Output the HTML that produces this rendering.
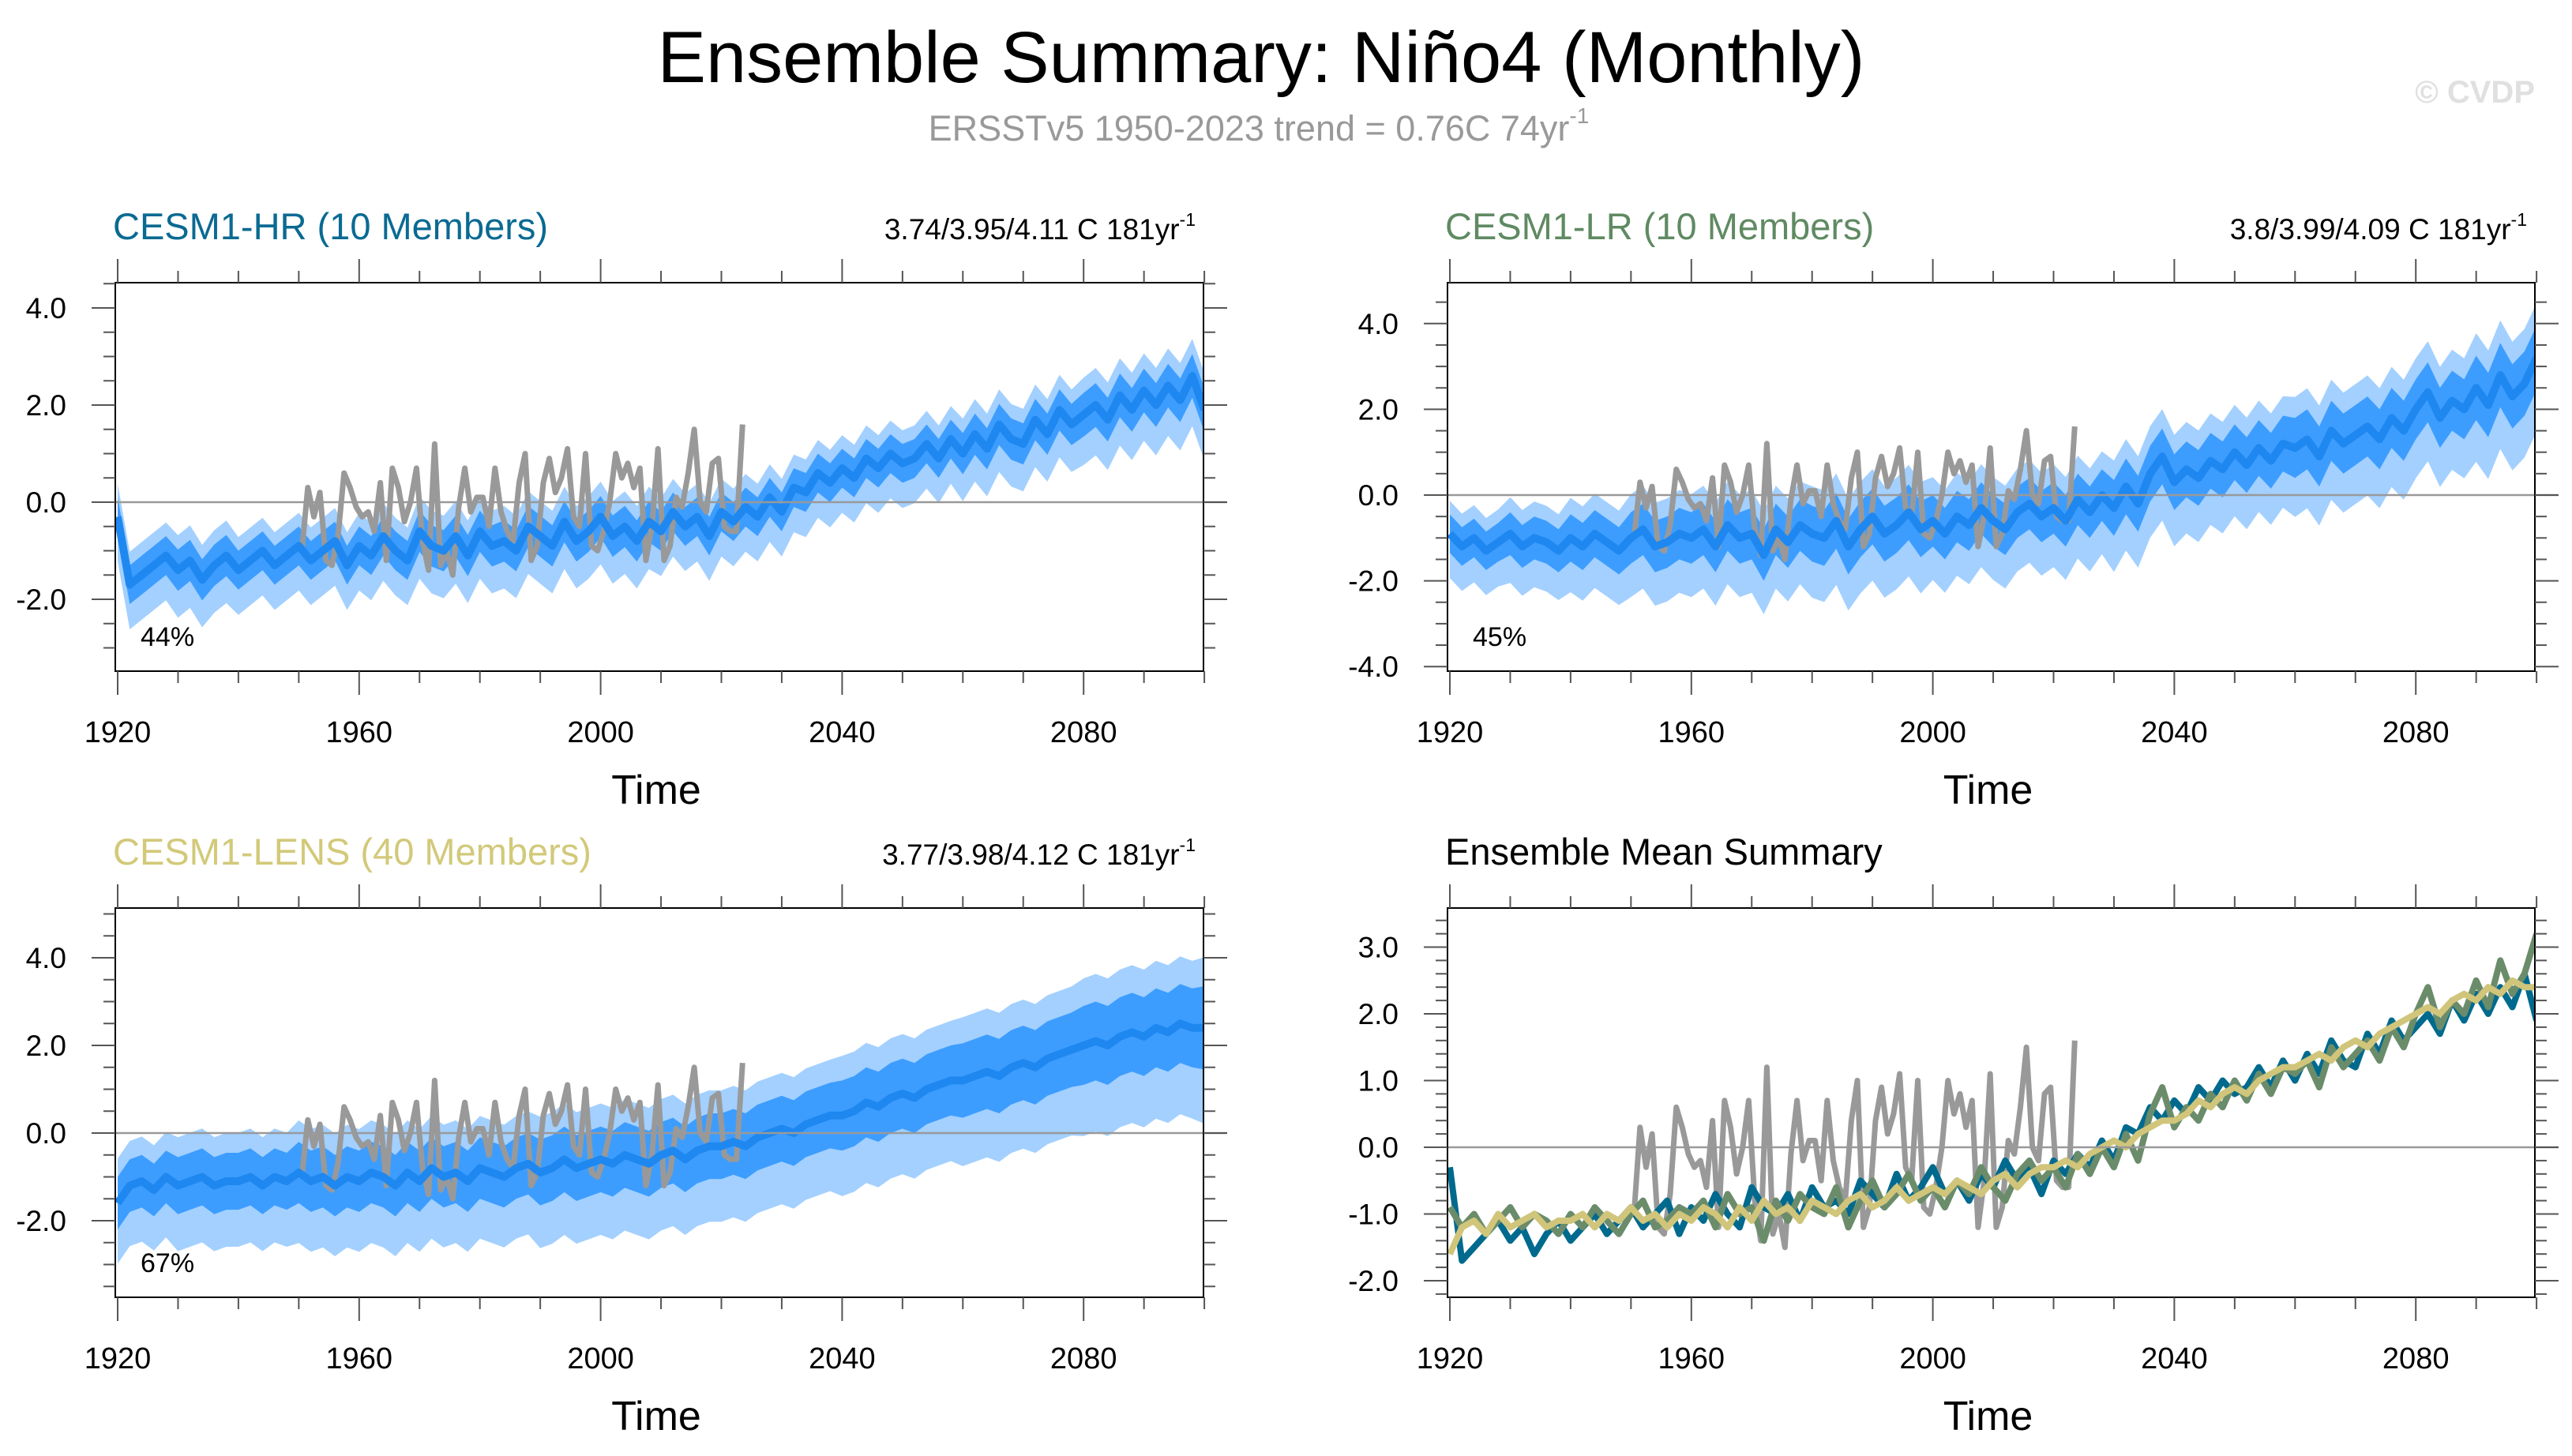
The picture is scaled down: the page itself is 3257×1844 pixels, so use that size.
<!DOCTYPE html>
<html><head><meta charset="utf-8"><title>Ensemble Summary: Niño4 (Monthly)</title>
<style>
html,body{margin:0;padding:0;background:#fff;}
svg{display:block;font-family:"Liberation Sans",sans-serif;}
</style></head>
<body>
<svg id="fig" width="3257" height="1844" viewBox="0 0 3257 1844" xmlns="http://www.w3.org/2000/svg">
<text x="1597" y="104" font-size="92" text-anchor="middle" fill="#000">Ensemble Summary: Niño4 (Monthly)</text>
<text x="1594" y="178" font-size="45" text-anchor="middle" fill="#999">ERSSTv5 1950-2023 trend = 0.76C 74yr<tspan font-size="28" dy="-22">-1</tspan></text>
<text x="3210" y="130" font-size="40" font-weight="bold" text-anchor="end" fill="#e0e0e0">© CVDP</text>
<g id="plots"></g>
</svg>
<script>
// ---- data (2-year steps 1920..2100) ----
const years = [];
for (let y = 1920; y <= 2100; y += 2) years.push(y);
const hrMean = [-0.3,-1.7,-1.5,-1.3,-1.1,-1.4,-1.2,-1.6,-1.3,-1.1,
-1.4,-1.2,-1.0,-1.3,-1.1,-0.9,-1.2,-1.0,-0.8,-1.3,
-0.9,-1.1,-0.7,-1.0,-1.2,-0.6,-0.9,-1.0,-0.7,-1.1,
-0.6,-0.9,-0.8,-1.0,-0.5,-0.7,-0.9,-0.4,-0.8,-0.6,
-0.3,-0.7,-0.5,-0.8,-0.4,-0.6,-0.2,-0.5,-0.3,-0.7,
-0.2,-0.4,-0.1,-0.3,0.1,-0.2,0.3,0.2,0.6,0.4,
0.7,0.5,0.9,0.7,1.0,0.8,0.9,1.2,0.9,1.3,
1.0,1.4,1.1,1.6,1.3,1.2,1.7,1.4,1.9,1.6,
1.8,2.0,1.7,2.2,1.9,2.3,2.0,2.4,2.1,2.6,1.9];
const lrMean = [-0.9,-1.2,-1.0,-1.3,-1.1,-0.9,-1.2,-1.0,-1.1,-1.3,
-1.0,-1.2,-0.9,-1.1,-1.3,-1.0,-0.8,-1.2,-1.1,-0.9,
-1.0,-0.8,-1.2,-0.7,-1.0,-0.9,-1.4,-0.8,-1.1,-0.7,
-0.9,-1.0,-0.6,-1.2,-0.8,-0.5,-0.9,-0.7,-0.4,-0.8,
-0.6,-0.9,-0.5,-0.7,-0.3,-0.6,-0.8,-0.4,-0.2,-0.5,
-0.3,-0.6,-0.1,-0.4,0.0,-0.3,0.2,-0.2,0.5,0.9,
0.3,0.6,0.4,0.8,0.6,1.0,0.7,1.1,0.8,1.2,
1.1,1.3,0.9,1.5,1.2,1.4,1.6,1.3,1.8,1.5,
2.0,2.4,1.8,2.2,2.0,2.5,2.1,2.8,2.3,2.6,3.2];
const lensMean = [-1.6,-1.2,-1.1,-1.3,-1.0,-1.2,-1.1,-1.0,-1.2,-1.1,
-1.1,-1.0,-1.2,-1.0,-1.1,-0.9,-1.1,-1.0,-1.2,-1.0,
-1.1,-0.9,-1.0,-1.2,-0.9,-1.1,-0.8,-1.0,-0.9,-1.1,
-0.8,-0.9,-1.0,-0.8,-0.7,-0.9,-0.8,-0.6,-0.8,-0.7,
-0.6,-0.7,-0.5,-0.6,-0.7,-0.5,-0.4,-0.6,-0.4,-0.3,
-0.3,-0.2,-0.3,-0.1,0.0,0.1,0.0,0.2,0.3,0.4,
0.4,0.5,0.7,0.6,0.8,0.9,0.8,1.0,1.1,1.2,
1.2,1.3,1.4,1.3,1.5,1.6,1.5,1.7,1.8,1.9,
2.0,2.1,2.0,2.2,2.3,2.2,2.4,2.3,2.5,2.4,2.4];
// ensemble half-range per decade (1920s..2100)
const hrSpread = [0.8,0.85,0.8,0.8,0.8,0.85,0.85,0.85,0.85,0.8,0.8,0.8,0.8,0.8,0.85,0.85,0.9,0.9,0.9];
const lrSpread = [0.9,1.0,1.1,1.2,1.2,1.2,1.3,1.3,1.2,1.2,1.2,1.3,1.3,1.3,1.4,1.4,1.4,1.5,1.5];
const lensSpread = [1.2,1.3,1.3,1.4,1.4,1.4,1.4,1.5,1.5,1.5,1.5,1.5,1.6,1.6,1.7,1.7,1.8,1.8,1.9];
// observations ERSSTv5, annual 1950..2023
const obsYears = [];
for (let y = 1950; y <= 2023; y++) obsYears.push(y);
const obs = [-1.0,0.3,-0.3,0.2,-1.2,-1.3,-0.7,0.6,0.3,-0.1,
-0.3,-0.2,-0.6,0.4,-1.2,0.7,0.3,-0.4,0.0,0.7,
-0.8,-1.4,1.2,-1.3,-1.0,-1.5,-0.1,0.7,-0.2,0.1,
0.1,-0.5,0.7,-0.2,-0.6,-0.8,0.4,1.0,-1.2,-0.9,
0.4,0.9,0.2,0.5,1.1,-0.3,-0.5,1.0,-0.9,-1.0,
-0.6,0.0,1.0,0.5,0.8,0.3,0.7,-1.2,-0.5,1.1,
-1.2,-0.9,0.1,-0.1,0.6,1.5,0.0,-0.2,0.8,0.9,
-0.5,-0.6,-0.6,1.6];
const xTickLabels = ["1920","1960","2000","2040","2080"];

const NS = "http://www.w3.org/2000/svg";
const root = document.getElementById("plots");
function mk(tag, attrs, parent) {
  const e = document.createElementNS(NS, tag);
  for (const k in attrs) e.setAttribute(k, attrs[k]);
  (parent || root).appendChild(e);
  return e;
}

function panel(cfg) {
  const g = mk("g", {});
  
  
  const X = yr => cfg.x1920 + (yr - 1920) * 7.645;
  const Y = v => cfg.zeroY - v * cfg.ppu;
  const L = cfg.left, R = cfg.right, T = cfg.top, B = cfg.bottom;
  const cid = "clip-" + cfg.name;
  const cp = mk("clipPath", {id: cid}, g);
  mk("rect", {x: L, y: T, width: R - L, height: B - T}, cp);
  const data = mk("g", {"clip-path": "url(#" + cid + ")"}, g);
  const zl = mk("line", {x1: L, x2: R + 30, y1: Y(0), y2: Y(0), stroke: "#999", "stroke-width": 2.5}, g);
  
  
  if (cfg.mean) {
    let up = "", lo = "", iup = "", ilo = "";
    years.forEach((yr, i) => {
      const s = cfg.spread[Math.min(cfg.spread.length - 1, Math.floor((yr - 1920) / 10))];
      up += (i ? "L" : "M") + X(yr).toFixed(1) + "," + Y(cfg.mean[i] + s * 0.85).toFixed(1);
      iup += (i ? "L" : "M") + X(yr).toFixed(1) + "," + Y(cfg.mean[i] + s * 0.5).toFixed(1);
    });
    for (let i = years.length - 1; i >= 0; i--) {
      const yr = years[i];
      const s = cfg.spread[Math.min(cfg.spread.length - 1, Math.floor((yr - 1920) / 10))];
      lo += "L" + X(yr).toFixed(1) + "," + Y(cfg.mean[i] - s * 1.15).toFixed(1);
      ilo += "L" + X(yr).toFixed(1) + "," + Y(cfg.mean[i] - s * 0.5).toFixed(1);
    }
    const ob = mk("path", {d: up + lo + "Z", fill: "#a3d0ff"}, data);
    
    
    const ib = mk("path", {d: iup + ilo + "Z", fill: "#3d9dff"}, data);
    
    
  }
  const od = obsYears.map((yr, i) => (i ? "L" : "M") + X(yr + 0.5).toFixed(1) + "," + Y(obs[i]).toFixed(1)).join("");
  const ol = mk("path", {d: od, fill: "none", stroke: "#999", "stroke-width": 7, "stroke-linejoin": "round"}, data);
  
  
  if (cfg.mean) {
    const md = years.map((yr, i) => (i ? "L" : "M") + X(yr).toFixed(1) + "," + Y(cfg.mean[i]).toFixed(1)).join("");
    const ml = mk("path", {d: md, fill: "none", stroke: "#1e88f0", "stroke-width": 10, "stroke-linejoin": "round"}, data);
    
    
  }
  if (cfg.multi) {
    cfg.multi.forEach(m => {
      const md = years.map((yr, i) => (i ? "L" : "M") + X(yr).toFixed(1) + "," + Y(m.vals[i]).toFixed(1)).join("");
      const ml = mk("path", {d: md, fill: "none", stroke: m.color, "stroke-width": 8, "stroke-linejoin": "round"}, data);
      
      
    });
  }
  const bx = mk("rect", {x: L, y: T, width: R - L, height: B - T, fill: "none", stroke: "#000", "stroke-width": 2}, g);
  
  
  for (let yr = 1920; yr <= 2100; yr += 10) {
    const maj = (yr - 1920) % 40 === 0 && yr <= 2080;
    const len = maj ? 30 : 15;
    mk("line", {x1: X(yr), x2: X(yr), y1: B, y2: B + len, stroke: "#555", "stroke-width": 2}, g);
    mk("line", {x1: X(yr), x2: X(yr), y1: T, y2: T - len, stroke: "#555", "stroke-width": 2}, g);
  }
  xTickLabels.forEach(lbl => {
    const t = mk("text", {x: X(+lbl), y: cfg.bottom + 90, "font-size": 38, "text-anchor": "middle"}, g);
    t.textContent = lbl;
    
    
  });
  const vmin = (cfg.zeroY - B) / cfg.ppu, vmax = (cfg.zeroY - T) / cfg.ppu;
  for (let k = Math.ceil(vmin / cfg.minor - 1e-6); k * cfg.minor <= vmax + 1e-6; k++) {
    const v = k * cfg.minor;
    const maj = Math.abs(v / cfg.major - Math.round(v / cfg.major)) < 1e-6;
    const len = maj ? 30 : 15;
    mk("line", {x1: L, x2: L - len, y1: Y(v), y2: Y(v), stroke: "#555", "stroke-width": 2}, g);
    mk("line", {x1: R, x2: R + len, y1: Y(v), y2: Y(v), stroke: "#555", "stroke-width": 2}, g);
    if (maj) {
      const t = mk("text", {x: L - 62, y: Y(v) + 13, "font-size": 37, "text-anchor": "end"}, g);
      t.textContent = v.toFixed(1);
      
      
    }
  }
  const xt = mk("text", {x: (L + R) / 2 - 4, y: B + 168, "font-size": 52, "text-anchor": "middle"}, g);
  xt.textContent = "Time";
  
  
  const tt = mk("text", {x: L - 3, y: T - 55, "font-size": 47, fill: cfg.titleColor}, g);
  tt.textContent = cfg.title;
  
  
  if (cfg.trend) {
    const tr = mk("text", {x: R - 10, y: T - 55, "font-size": 37, "text-anchor": "end"}, g);
    tr.textContent = cfg.trend;
    
    
    const sp = mk("tspan", {"font-size": 23, dy: -17}, tr);
    sp.textContent = "-1";
  }
  if (cfg.pct) {
    const pt = mk("text", {x: L + 32, y: B - 32, "font-size": 34}, g);
    pt.textContent = cfg.pct;
    
    
  }
}

panel({name: "panel-cesm1-hr", left: 146, right: 1524, top: 358, bottom: 850, x1920: 149,
  zeroY: 636, ppu: 61.5, major: 2, minor: 0.5, mean: hrMean, spread: hrSpread,
  title: "CESM1-HR (10 Members)", titleColor: "#0a6a92", trend: "3.74/3.95/4.11 C 181yr", pct: "44%"});
panel({name: "panel-cesm1-lr", left: 1833, right: 3210, top: 358, bottom: 850, x1920: 1836,
  zeroY: 627, ppu: 54.3, major: 2, minor: 0.5, mean: lrMean, spread: lrSpread,
  title: "CESM1-LR (10 Members)", titleColor: "#5f8a62", trend: "3.8/3.99/4.09 C 181yr", pct: "45%"});
panel({name: "panel-cesm1-lens", left: 146, right: 1524, top: 1150, bottom: 1643, x1920: 149,
  zeroY: 1435, ppu: 55.5, major: 2, minor: 0.5, mean: lensMean, spread: lensSpread,
  title: "CESM1-LENS (40 Members)", titleColor: "#d2c97a", trend: "3.77/3.98/4.12 C 181yr", pct: "67%"});
panel({name: "panel-ensemble-mean-summary", left: 1833, right: 3210, top: 1150, bottom: 1643, x1920: 1836,
  zeroY: 1453, ppu: 84.5, major: 1, minor: 0.2,
  multi: [{name: "hr-mean-line", color: "#006a8e", vals: hrMean},
          {name: "lr-mean-line", color: "#6a8c6a", vals: lrMean},
          {name: "lens-mean-line", color: "#d0c57a", vals: lensMean}],
  title: "Ensemble Mean Summary", titleColor: "#000"});
</script>
</body></html>
